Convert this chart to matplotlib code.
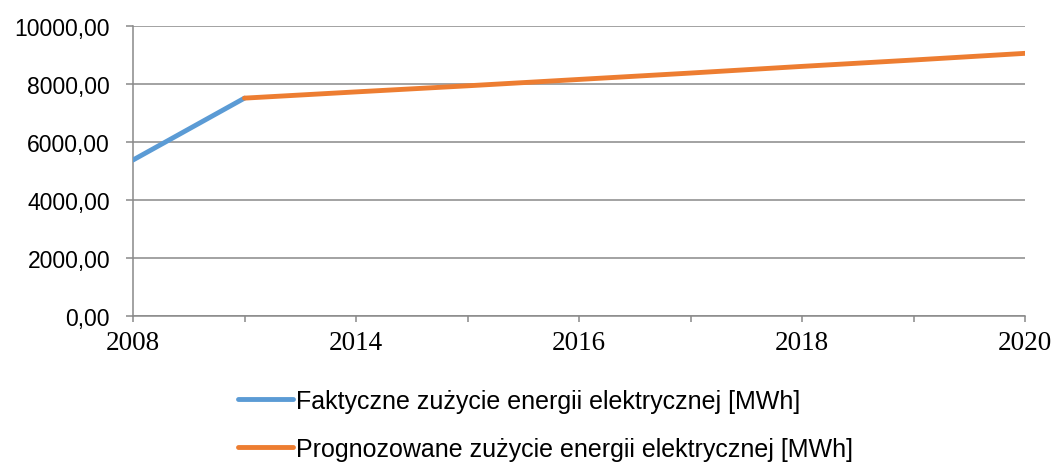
import matplotlib
matplotlib.use("Agg")
import matplotlib.pyplot as plt
from matplotlib.ticker import FuncFormatter, FixedLocator

categories = ["2008", "2013", "2014", "2015", "2016", "2017", "2018", "2019", "2020"]
actual = [5370, 7505, None, None, None, None, None, None, None]
forecast = [None, 7505, 7720, 7930, 8150, 8370, 8600, 8820, 9050]
yticks = [0, 2000, 4000, 6000, 8000, 10000]
label_actual = "Faktyczne zużycie energii elektrycznej [MWh]"
label_forecast = "Prognozowane zużycie energii elektrycznej [MWh]"

blue = "#5B9BD5"
orange = "#ED7D31"
grid = "#898989"

fig = plt.figure(figsize=(10.54, 4.64), dpi=100)
ax = fig.add_axes([133/1054, 1-316.7/464, (1025-133)/1054, (316.7-26.8)/464])

x = list(range(len(categories)))
xa = [i for i, v in zip(x, actual) if v is not None]
ya = [v for v in actual if v is not None]
xf = [i for i, v in zip(x, forecast) if v is not None]
yf = [v for v in forecast if v is not None]

la, = ax.plot(xa, ya, color=blue, lw=3.5, solid_capstyle="round", label=label_actual, zorder=3)
lf, = ax.plot(xf, yf, color=orange, lw=3.5, solid_capstyle="round", label=label_forecast, zorder=4)

ax.set_xlim(0, len(categories) - 1)
ax.set_ylim(0, 10000)
ax.yaxis.set_major_locator(FixedLocator(yticks))
ax.yaxis.set_major_formatter(FuncFormatter(lambda v, p: f"{v:.2f}".replace(".", ",")))
ax.grid(axis="y", color=grid, lw=1.1, zorder=0)
ax.set_axisbelow(True)

ax.set_xticks(x)
ax.set_xticklabels([c if i % 2 == 0 else "" for i, c in enumerate(categories)])

for s in ["top", "right"]:
    ax.spines[s].set_visible(False)
for s in ["left", "bottom"]:
    ax.spines[s].set_color(grid)
    ax.spines[s].set_linewidth(1.1)

ax.tick_params(axis="y", length=5, width=1.1, color=grid, pad=11.5, labelsize=16.5)
ax.tick_params(axis="x", length=4.5, width=1.1, color=grid, pad=5.8, labelsize=19.5)
for t in ax.get_yticklabels():
    t.set_fontfamily("Liberation Sans")
for t in ax.get_xticklabels():
    t.set_fontfamily("Liberation Serif")

leg = fig.legend(handles=[la, lf], loc="upper left", bbox_to_anchor=(238/1054, 1-390/464),
                 frameon=False, ncol=1, handlelength=2.2, handletextpad=0.1,
                 labelspacing=0.95, borderaxespad=0, borderpad=0,
                 prop={"family": "Liberation Sans", "size": 18})

fig.savefig("out.png", dpi=100)
